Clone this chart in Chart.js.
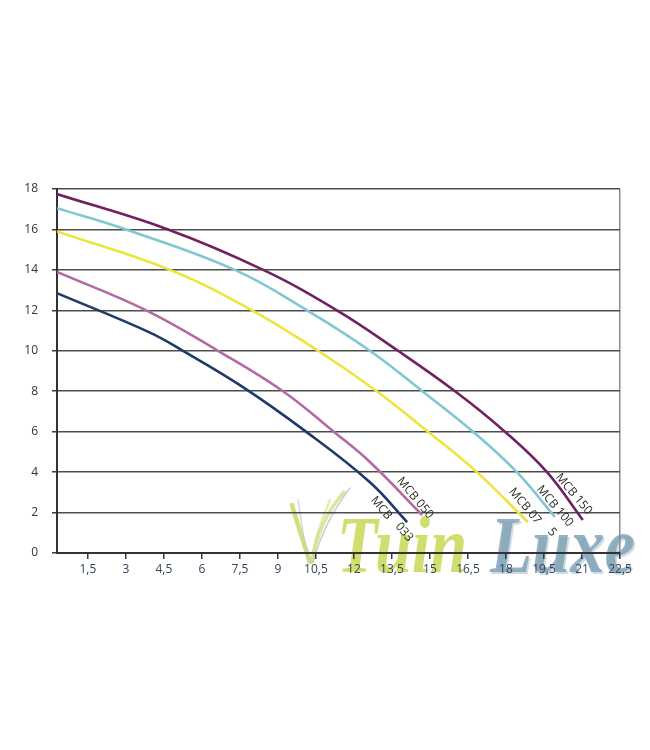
<!DOCTYPE html>
<html lang="nl">
<head>
    <meta charset="UTF-8">
    <title>MCB pompcurves</title>
    <script src="https://cdn.jsdelivr.net/npm/chart.js@4.4.0/dist/chart.umd.min.js"></script>
    <style>
        body {
            margin: 0;
            background: #ffffff;
            font-family: "Open Sans", Arial, sans-serif;
        }
        .wrap {
            width: 650px;
            height: 750px;
            position: relative;
        }
    </style>
</head>
<body>
    <div class="wrap">
        <canvas id="pumpChart"></canvas>
    </div>

    <script>
        // Tick labels
        const xTicks = [1.5, 3, 4.5, 6, 7.5, 9, 10.5, 12, 13.5, 15, 16.5, 18, 19.5, 21, 22.5];
        const yTicks = [0, 2, 4, 6, 8, 10, 12, 14, 16, 18];

        // Curves (flow, head)
        const flow033 = [0.28, 3.95, 5.25, 7.5, 10.0, 12.63, 14.1];
        const head033 = [12.85, 10.9, 10, 8.3, 6.1, 3.5, 1.53];

        const flow050 = [0.28, 3.8, 6.63, 9.2, 11.2, 12.63, 14.69];
        const head050 = [13.9, 12, 10, 8, 6, 4.5, 1.88];

        const flow075 = [0.28, 4.74, 7.98, 10.58, 12.9, 14.92, 16.85, 18.87];
        const head075 = [15.9, 14, 12, 10, 8, 6, 4, 1.53];

        const flow100 = [0.28, 3.0, 7.3, 10.15, 12.63, 14.7, 16.7, 18.43, 19.93];
        const head100 = [17.05, 16, 14, 12, 10, 8, 6, 4, 1.78];

        const flow150 = [0.28, 4.66, 8.42, 11.33, 13.74, 15.99, 17.96, 19.62, 21.03];
        const head150 = [17.75, 16, 14, 12, 10, 8, 6, 4, 1.63];

        const pts = (xs, ys) => xs.map((x, i) => ({ x: x, y: ys[i] }));

        // label pieces are placed relative to the last point of each curve
        const curves = [
            { name: 'MCB 033', color: '#1d3a68', data: pts(flow033, head033),
              parts: [{ t: 'MCB', dx: -26, dy: -14 }, { t: '033', dx: -3, dy: 10 }] },
            { name: 'MCB 050', color: '#b469a2', data: pts(flow050, head050),
              parts: [{ t: 'MCB 050', dx: -7, dy: -17 }] },
            { name: 'MCB 075', color: '#ece53a', data: pts(flow075, head075),
              parts: [{ t: 'MCB 07', dx: -3, dy: -16 }, { t: '5', dx: 24, dy: 10 }] },
            { name: 'MCB 100', color: '#7fc7d1', data: pts(flow100, head100),
              parts: [{ t: 'MCB 100', dx: 0, dy: -11 }] },
            { name: 'MCB 150', color: '#72215f', data: pts(flow150, head150),
              parts: [{ t: 'MCB 150', dx: -9, dy: -26 }] }
        ];

        const curveLabels = {
            id: 'curveLabels',
            afterDatasetsDraw(chart) {
                const ctx = chart.ctx;
                ctx.save();
                ctx.font = '12px "Open Sans", Arial, sans-serif';
                ctx.fillStyle = '#2a2a2a';
                ctx.textAlign = 'center';
                ctx.textBaseline = 'middle';
                curves.forEach((c, i) => {
                    const pts = chart.getDatasetMeta(i).data;
                    const last = pts[pts.length - 1];
                    c.parts.forEach(p => {
                        ctx.save();
                        ctx.translate(last.x + p.dx, last.y + p.dy);
                        ctx.rotate(50 * Math.PI / 180);
                        ctx.fillText(p.t, 0, 0);
                        ctx.restore();
                    });
                });
                ctx.restore();
            }
        };

        // "Tuin Luxe" watermark with a few grass blades, under the axes
        const watermark = {
            id: 'watermark',
            beforeDraw(chart) {
                const ctx = chart.ctx;
                const a = chart.chartArea;
                const bx = a.left + 253, by = a.bottom + 9;
                ctx.save();
                ctx.lineCap = 'round';
                const blades = [
                    [0, 0, -10, -30, -18, -57, '#c3d356', 4.5, 0.75],
                    [-2, 0, -8, -35, -12, -62, '#c8c8c8', 1.5, 0.75],
                    [2, 0, 8, -40, 34, -70, '#c9d770', 3.5, 0.65],
                    [3, 0, 14, -40, 40, -74, '#b0b0b0', 1.5, 0.65],
                    [1, 0, 6, -30, 20, -62, '#cfdc80', 2.5, 0.55]
                ];
                blades.forEach(b => {
                    ctx.globalAlpha = b[8];
                    ctx.strokeStyle = b[6];
                    ctx.lineWidth = b[7];
                    ctx.beginPath();
                    ctx.moveTo(bx + b[0], by + b[1]);
                    ctx.quadraticCurveTo(bx + b[2], by + b[3], bx + b[4], by + b[5]);
                    ctx.stroke();
                });

                ctx.font = 'bold italic 80px "Liberation Serif", serif';
                ctx.textBaseline = 'alphabetic';
                const tuin = 'Tuin', luxe = 'Luxe';
                const wT = ctx.measureText(tuin).width;
                const wL = ctx.measureText(luxe).width;
                const base = a.bottom + 19;
                ctx.save();
                ctx.globalAlpha = 0.8;
                ctx.translate(a.left + 280, base);
                ctx.scale(130 / wT, 1);
                ctx.fillStyle = '#c6d648';
                ctx.fillText(tuin, 0, 0);
                ctx.restore();
                ctx.save();
                ctx.globalAlpha = 0.8;
                ctx.translate(a.left + 433, base);
                ctx.scale(145 / wL, 1);
                ctx.fillStyle = '#c3d3dc';
                ctx.fillText(luxe, 2, 2);
                ctx.fillStyle = '#7c9fb4';
                ctx.fillText(luxe, 0, 0);
                ctx.restore();
                ctx.restore();
            }
        };

        const config = {
            type: 'line',
            data: {
                datasets: curves.map(c => ({
                    label: c.name,
                    data: c.data,
                    borderColor: c.color,
                    borderWidth: 2.6,
                    pointRadius: 0,
                    fill: false,
                    tension: 0.4
                }))
            },
            options: {
                responsive: true,
                maintainAspectRatio: false,
                animation: false,
                layout: {
                    padding: { top: 189, right: 30, bottom: 167, left: 0 }
                },
                plugins: {
                    legend: { display: false },
                    tooltip: { enabled: false }
                },
                scales: {
                    x: {
                        type: 'linear',
                        min: 0.28,
                        max: 22.5,
                        afterBuildTicks: scale => {
                            scale.ticks = xTicks.map(v => ({ value: v }));
                        },
                        afterFit: scale => { scale.height = 30; },
                        ticks: {
                            autoSkip: false,
                            maxRotation: 0,
                            padding: 3,
                            color: '#34445e',
                            font: { size: 12, family: '"Open Sans", Arial, sans-serif' },
                            callback: v => String(v).replace('.', ',')
                        },
                        grid: {
                            color: ctx => (ctx.tick && ctx.tick.value === 22.5) ? '#8c8c8c' : 'rgba(0,0,0,0)',
                            lineWidth: 1.5,
                            tickColor: '#3a3a3a',
                            tickLength: 6
                        },
                        border: { color: '#333333', width: 2 }
                    },
                    y: {
                        min: 0,
                        max: 18,
                        afterBuildTicks: scale => {
                            scale.ticks = yTicks.map(v => ({ value: v }));
                        },
                        afterFit: scale => { scale.width = 57; },
                        ticks: {
                            padding: 14,
                            color: '#333333',
                            font: { size: 12, family: '"Open Sans", Arial, sans-serif' }
                        },
                        grid: {
                            color: '#4d4d4d',
                            lineWidth: 1.5,
                            tickColor: '#3a3a3a',
                            tickLength: 5
                        },
                        border: { color: '#333333', width: 2 }
                    }
                }
            },
            plugins: [curveLabels, watermark]
        };

        new Chart(document.getElementById('pumpChart').getContext('2d'), config);
    </script>
</body>
</html>
